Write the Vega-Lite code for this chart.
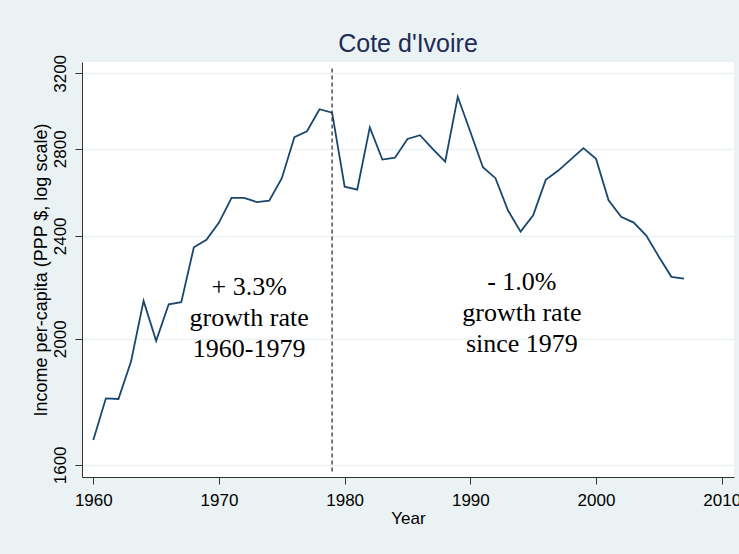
{
  "$schema": "https://vega.github.io/schema/vega-lite/v6.json",
  "width": 652,
  "height": 415,
  "autosize": {"type": "none"},
  "padding": {"left": 82, "top": 62, "right": 5, "bottom": 77},
  "background": "#EAF2F3",
  "view": {"fill": "white", "stroke": null},
  "title": {
    "text": "Cote d'Ivoire",
    "font": "Liberation Sans",
    "fontSize": 25,
    "fontWeight": "normal",
    "color": "#1E2B57",
    "anchor": "middle",
    "baseline": "alphabetic",
    "offset": 10,
    "dy": 33
  },
  "datasets": {
    "income": [
      {"year": 1960, "gdp": 1672}, {"year": 1961, "gdp": 1800}, {"year": 1962, "gdp": 1798},
      {"year": 1963, "gdp": 1921}, {"year": 1964, "gdp": 2139}, {"year": 1965, "gdp": 1993},
      {"year": 1966, "gdp": 2126}, {"year": 1967, "gdp": 2134}, {"year": 1968, "gdp": 2352},
      {"year": 1969, "gdp": 2383}, {"year": 1970, "gdp": 2457}, {"year": 1971, "gdp": 2567},
      {"year": 1972, "gdp": 2567}, {"year": 1973, "gdp": 2548}, {"year": 1974, "gdp": 2554},
      {"year": 1975, "gdp": 2658}, {"year": 1976, "gdp": 2858}, {"year": 1977, "gdp": 2888},
      {"year": 1978, "gdp": 3003}, {"year": 1979, "gdp": 2985}, {"year": 1980, "gdp": 2618},
      {"year": 1981, "gdp": 2605}, {"year": 1982, "gdp": 2908}, {"year": 1983, "gdp": 2747},
      {"year": 1984, "gdp": 2756}, {"year": 1985, "gdp": 2849}, {"year": 1986, "gdp": 2868},
      {"year": 1987, "gdp": 2799}, {"year": 1988, "gdp": 2737}, {"year": 1989, "gdp": 3070},
      {"year": 1990, "gdp": 2886}, {"year": 1991, "gdp": 2710}, {"year": 1992, "gdp": 2658},
      {"year": 1993, "gdp": 2510}, {"year": 1994, "gdp": 2418}, {"year": 1995, "gdp": 2489},
      {"year": 1996, "gdp": 2650}, {"year": 1997, "gdp": 2694}, {"year": 1998, "gdp": 2748},
      {"year": 1999, "gdp": 2803}, {"year": 2000, "gdp": 2751}, {"year": 2001, "gdp": 2556},
      {"year": 2002, "gdp": 2482}, {"year": 2003, "gdp": 2457}, {"year": 2004, "gdp": 2401},
      {"year": 2005, "gdp": 2313}, {"year": 2006, "gdp": 2232}, {"year": 2007, "gdp": 2225}
    ],
    "notes": [
      {"year": 1972.4, "gdp": 2193, "label": "+ 3.3%\ngrowth rate\n1960-1979"},
      {"year": 1994.1, "gdp": 2213, "label": "- 1.0%\ngrowth rate\nsince 1979"}
    ],
    "marker": [
      {"year": 1979, "low": 1581, "high": 3244}
    ]
  },
  "layer": [
    {
      "data": {"name": "income"},
      "mark": {"type": "line", "color": "#1A476F", "strokeWidth": 1.8, "clip": true},
      "encoding": {
        "x": {
          "field": "year", "type": "quantitative",
          "scale": {"domain": [1959.1, 2010.98], "nice": false, "zero": false},
          "axis": {
            "title": "Year",
            "values": [1960, 1970, 1980, 1990, 2000, 2010],
            "format": "d",
            "grid": false,
            "domainColor": "#333333",
            "tickColor": "#333333",
            "tickSize": 7,
            "labelFont": "Liberation Sans",
            "labelFontSize": 17,
            "labelColor": "#000000",
            "labelPadding": 8,
            "labelFlush": false,
            "labelOverlap": false,
            "titleFont": "Liberation Sans",
            "titleFontSize": 17,
            "titleFontWeight": "normal",
            "titleColor": "#000000",
            "titlePadding": 2
          }
        },
        "y": {
          "field": "gdp", "type": "quantitative",
          "scale": {"type": "log", "domain": [1566, 3265], "nice": false, "zero": false},
          "axis": {
            "title": "Income per-capita (PPP $, log scale)",
            "values": [1600, 2000, 2400, 2800, 3200],
            "format": "d",
            "grid": true,
            "gridColor": "#EAF2F3",
            "gridWidth": 1.5,
            "domainColor": "#333333",
            "tickColor": "#333333",
            "tickSize": 7,
            "labelAngle": -90,
            "labelAlign": "center",
            "labelBaseline": "bottom",
            "labelFont": "Liberation Sans",
            "labelFontSize": 17,
            "labelColor": "#000000",
            "labelPadding": 6,
            "labelFlush": false,
            "labelOverlap": false,
            "titleFont": "Liberation Sans",
            "titleFontSize": 18,
            "titleFontWeight": "normal",
            "titleColor": "#000000",
            "titlePadding": 1
          }
        }
      }
    },
    {
      "data": {"name": "marker"},
      "mark": {"type": "rule", "color": "#333333", "strokeWidth": 1.3, "strokeDash": [4, 3]},
      "encoding": {
        "x": {"field": "year", "type": "quantitative"},
        "y": {"field": "low", "type": "quantitative"},
        "y2": {"field": "high"}
      }
    },
    {
      "data": {"name": "notes"},
      "mark": {
        "type": "text",
        "font": "Liberation Serif",
        "fontSize": 26,
        "color": "#000000",
        "align": "center",
        "baseline": "middle",
        "lineBreak": "\n",
        "lineHeight": 31
      },
      "encoding": {
        "x": {"field": "year", "type": "quantitative"},
        "y": {"field": "gdp", "type": "quantitative"},
        "text": {"field": "label", "type": "nominal"}
      }
    }
  ]
}
